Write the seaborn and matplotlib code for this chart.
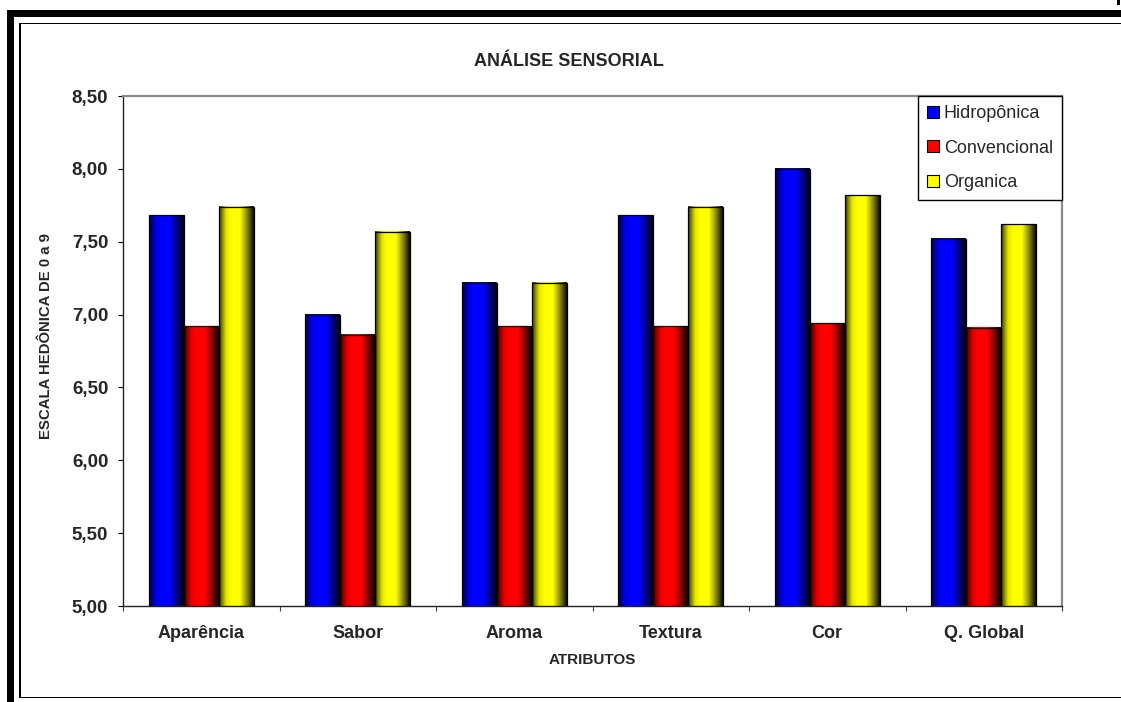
import numpy as np
import pandas as pd
import matplotlib
matplotlib.use("Agg")
import matplotlib.pyplot as plt
import seaborn as sns
from matplotlib.patches import Rectangle
from matplotlib.ticker import FuncFormatter, FixedLocator

categories = ["Aparência", "Sabor", "Aroma", "Textura", "Cor", "Q. Global"]
series = ["Hidropônica", "Convencional", "Organica"]
hidroponica = [7.68, 7.00, 7.22, 7.68, 8.00, 7.52]
convencional = [6.92, 6.86, 6.92, 6.92, 6.94, 6.91]
organica = [7.74, 7.57, 7.22, 7.74, 7.82, 7.62]
colors = ["#0000FF", "#FF0000", "#FFFF00"]
yticks = [5.0, 5.5, 6.0, 6.5, 7.0, 7.5, 8.0, 8.5]

df = pd.DataFrame({
    "attr": categories * 3,
    "val": hidroponica + convencional + organica,
    "serie": [series[0]] * 6 + [series[1]] * 6 + [series[2]] * 6,
})

sns.set_style("white")
plt.rcParams["font.family"] = ["Liberation Sans", "DejaVu Sans"]

W, H = 1121, 702
fig = plt.figure(figsize=(W / 100, H / 100), dpi=100)
ax = fig.add_axes([123 / W, 1 - 606 / H, (1062 - 123) / W, (606 - 96) / H])

sns.barplot(data=df, x="attr", y="val", hue="serie", palette=colors,
            width=0.67, gap=0, edgecolor="black", linewidth=0.9,
            ax=ax, legend=True, errorbar=None, saturation=1)

# gradient shading of bars (cylinder-like)
t = np.linspace(0, 1, 64)
prof = np.interp(t, [0, 0.05, 0.2, 0.35, 0.6, 0.8, 1.0],
                 [0.2, 0.4, 0.9, 1.0, 1.0, 0.55, 0.05])
bars = [p for p in ax.patches if p.get_height() > 0]
for p in bars:
    x0, y0, w, h = p.get_x(), p.get_y(), p.get_width(), p.get_height()
    rgb = np.array(p.get_facecolor()[:3])
    img = (prof[:, None] * rgb[None, :])[None, :, :]
    ax.imshow(img, extent=[x0, x0 + w, y0, y0 + h], aspect="auto",
              interpolation="bilinear", zorder=p.get_zorder() + 0.1)
    p.set_facecolor("none")
    p.set_zorder(p.get_zorder() + 0.2)

ax.set_xlim(-0.5, len(categories) - 0.5)
ax.set_ylim(yticks[0], yticks[-1])
ax.set_aspect("auto")
ax.set_yticks(yticks)
ax.yaxis.set_major_formatter(FuncFormatter(lambda v, _: f"{v:.2f}".replace(".", ",")))
ax.tick_params(axis="y", left=True, length=3.6, width=0.8, pad=7,
               labelsize=13.5, color="black", direction="out")
for lab in ax.get_yticklabels():
    lab.set_fontweight("bold")

ax.set_xticks(range(len(categories)))
ax.set_xticklabels(categories, fontsize=13, fontweight="bold")
ax.xaxis.set_minor_locator(FixedLocator(np.arange(-0.5, len(categories), 1.0)))
ax.tick_params(axis="x", which="major", length=0, pad=14)
ax.tick_params(axis="x", which="minor", bottom=True, length=3.6, width=0.8,
               color="#404040", direction="out")
ax.set_xlabel("")
ax.set_ylabel("")
ax.grid(False)

for side in ["left", "bottom"]:
    ax.spines[side].set_color("#202020")
    ax.spines[side].set_linewidth(1.0)
for side in ["top", "right"]:
    ax.spines[side].set_color("#8a8a8a")
    ax.spines[side].set_linewidth(1.6)
    ax.spines[side].set_visible(True)

handles, labels = ax.get_legend_handles_labels()
leg = ax.legend(handles, labels, loc="upper right", bbox_to_anchor=(1.0, 1.0),
                borderaxespad=0, frameon=True, fancybox=False, fontsize=13,
                handlelength=0.65, handleheight=0.65, handletextpad=0.28,
                labelspacing=0.98, borderpad=0.5)
leg.get_frame().set_edgecolor("black")
leg.get_frame().set_linewidth(1.0)
leg.get_frame().set_alpha(1)
for hnd in leg.legend_handles:
    hnd.set_edgecolor("black")
    hnd.set_linewidth(0.8)

fig.text(569 / W, 1 - 61 / H, "ANÁLISE SENSORIAL", ha="center", va="center",
         fontsize=13, fontweight="bold")
fig.text(592 / W, 1 - 660 / H, "ATRIBUTOS", ha="center", va="center",
         fontsize=11, fontweight="bold")
fig.text(46 / W, 1 - 336 / H, "ESCALA HEDÔNICA DE 0 a 9", ha="center", va="center",
         rotation=90, fontsize=10.7, fontweight="bold")

# page frame decoration
def prect(x0, y0, x1, y1):
    fig.add_artist(Rectangle((x0 / W, 1 - y1 / H), (x1 - x0) / W, (y1 - y0) / H,
                             transform=fig.transFigure, facecolor="black",
                             edgecolor="none"))

prect(7, 10, 14, 702)
prect(7, 10, 1121, 17)
prect(19, 23, 20.5, 698)
prect(19, 22.5, 1121, 24)
prect(19, 696.5, 1121, 698)
prect(1117, 0, 1119.5, 5)

fig.savefig("out.png", dpi=100, facecolor="white")
